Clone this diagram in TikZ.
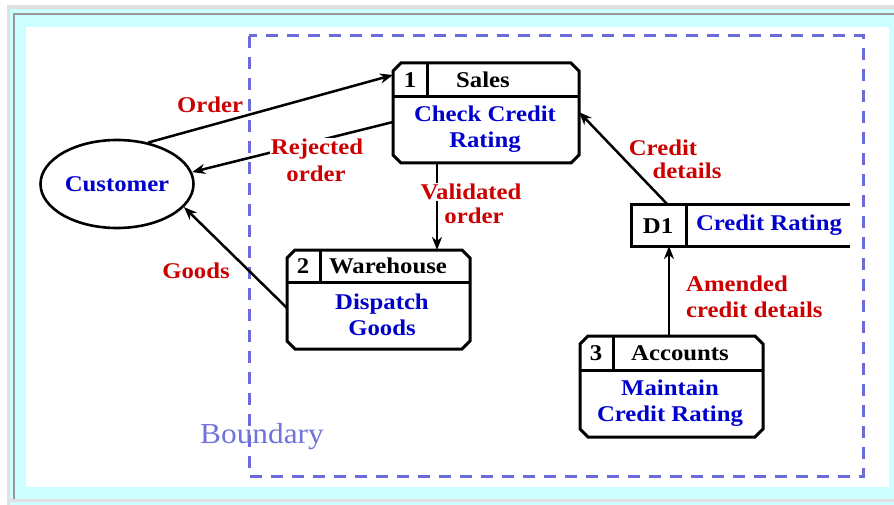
\documentclass[tikz,border=0pt]{standalone}
\usepackage{fontspec}
\setmainfont[FakeStretch=1.1]{Liberation Serif}
\newfontfamily\bndfont[FakeStretch=1.08]{Liberation Serif}
\usetikzlibrary{shapes.geometric,arrows.meta,calc}
\definecolor{dfdred}{HTML}{CC0000}
\definecolor{dfdblue}{HTML}{0000CC}
\definecolor{bnd}{HTML}{6B6BDB}
\definecolor{bndtext}{HTML}{7272DD}
\definecolor{bgcyan}{HTML}{CCFFFF}
\definecolor{bggray}{HTML}{E0E0E0}
\definecolor{bgdark}{HTML}{999999}
\newcommand\dfdbox[7]{%
  \node[boxarea, minimum width={(#3-#1)*1pt}, minimum height={(#4-#2)*1pt}] (#5) at ({(#1+#3)/2},{(#2+#4)/2}) {};
  \draw[procline] ([xshift=8pt]#5.north west) -- ([xshift=-8pt]#5.north east) -- ([yshift=-8pt]#5.north east)
    -- ([yshift=8pt]#5.south east) -- ([xshift=-8pt]#5.south east) -- ([xshift=8pt]#5.south west)
    -- ([yshift=8pt]#5.south west) -- ([yshift=-8pt]#5.north west) -- cycle;
  \draw[procline] (#5.west |- 0,#6) -- (#5.east |- 0,#6);
  \draw[procline] (#5.north -| #7,0) -- (#7,#6);
}
\begin{document}
\begin{tikzpicture}[x=1pt,y=-1pt,
  txt/.style={font=\fontsize{22.5}{26}\selectfont\bfseries, inner sep=1pt, align=center},
  boxarea/.style={rectangle, inner sep=0pt, outer sep=0pt},
  procline/.style={line width=3pt, line join=miter},
  flow/.style={line width=2.5pt, -{Stealth[length=13pt,width=10pt,inset=4pt]}},
  lbl/.style={txt, text=dfdred},
  body/.style={txt, text=dfdblue},
  head/.style={txt, text=black}]
\useasboundingbox (0,0) rectangle (894,505);
% background frame
\fill[bggray] (7,5) rectangle (894,505);
\fill[bgcyan] (10,9) rectangle (894,499);
\fill[bggray] (10,499) rectangle (894,501.5);
\fill[bgcyan] (10,501.5) rectangle (894,505);
\draw[bgdark, line width=1.5pt] (14,499) -- (14,14) -- (894,14);
\fill[white] (26,27) rectangle (889,487);
% boundary
\draw[bnd, line width=3pt, dash pattern=on 12pt off 9pt] (249,36) rectangle (863,476);
\node[font=\fontsize{29}{32}\selectfont\bndfont, text=bndtext, inner sep=0pt] (bndlbl) at (262,437) {Boundary};
% customer
\node[ellipse, draw, line width=2.6pt, minimum width=153pt, minimum height=88pt, inner sep=0pt, body] (cust) at (117,184) {Customer};
% processes
\dfdbox{393}{63}{579}{163}{sales}{97}{427}
\node[head] (salesnum) at (410,80) {1};
\node[head] (salestitle) at (483,80) {Sales};
\node[body] (salesbody) at (485,129) {Check Credit\\Rating};
\dfdbox{287}{250}{470}{349}{wh}{282}{320}
\node[head] (whnum) at (303,266) {2};
\node[head] (whtitle) at (388,266) {Warehouse};
\node[body] (whbody) at (382,315) {Dispatch\\Goods};
\dfdbox{580}{336}{763}{437}{acc}{370}{613}
\node[head] (accnum) at (596,353) {3};
\node[head] (acctitle) at (680,353) {Accounts};
\node[body] (accbody) at (670,403) {Maintain\\Credit Rating};
% data store
\node[boxarea, minimum width=219pt, minimum height=41pt] (d1) at (740.5,225.5) {};
\draw[procline] (d1.north east) -- (d1.north west) -- (d1.south west) -- (d1.south east);
\draw[procline] (d1.north -| 686,0) -- (d1.south -| 686,0);
\node[head] (d1id) at (658,226) {D1};
\node[body] (d1name) at (769,225) {Credit Rating};
% flows
\draw[flow] (cust.53) -- (sales.west |- 0,75);
\draw[flow] (sales.west |- 0,122) -- (cust.9);
\draw[flow] (wh.west |- 0,308) -- (cust.-19);
\draw[flow] (sales.south -| 437,0) -- (wh.north -| 437,0);
\draw[flow] (d1.north -| 668,0) -- (sales.east |- 0,112);
\draw[flow] (acc.north -| 669,0) -- (d1.south -| 669,0);
% labels
\node[lbl] (lorder) at (210,105) {Order};
\node[lbl, fill=white] (lrej1) at (317,149) {Rejected};
\node[lbl] (lrej2) at (316,174) {order};
\node[lbl] (lgoods) at (196,271) {Goods};
\node[lbl, fill=white] (lval1) at (471,192) {Validated};
\node[lbl] (lval2) at (474,216) {order};
\node[lbl] (lcred1) at (663,148) {Credit};
\node[lbl] (lcred2) at (687,171) {details};
\node[lbl, align=left, anchor=west] (lamend) at (685,297) {Amended\\credit details};
\end{tikzpicture}
\end{document}
